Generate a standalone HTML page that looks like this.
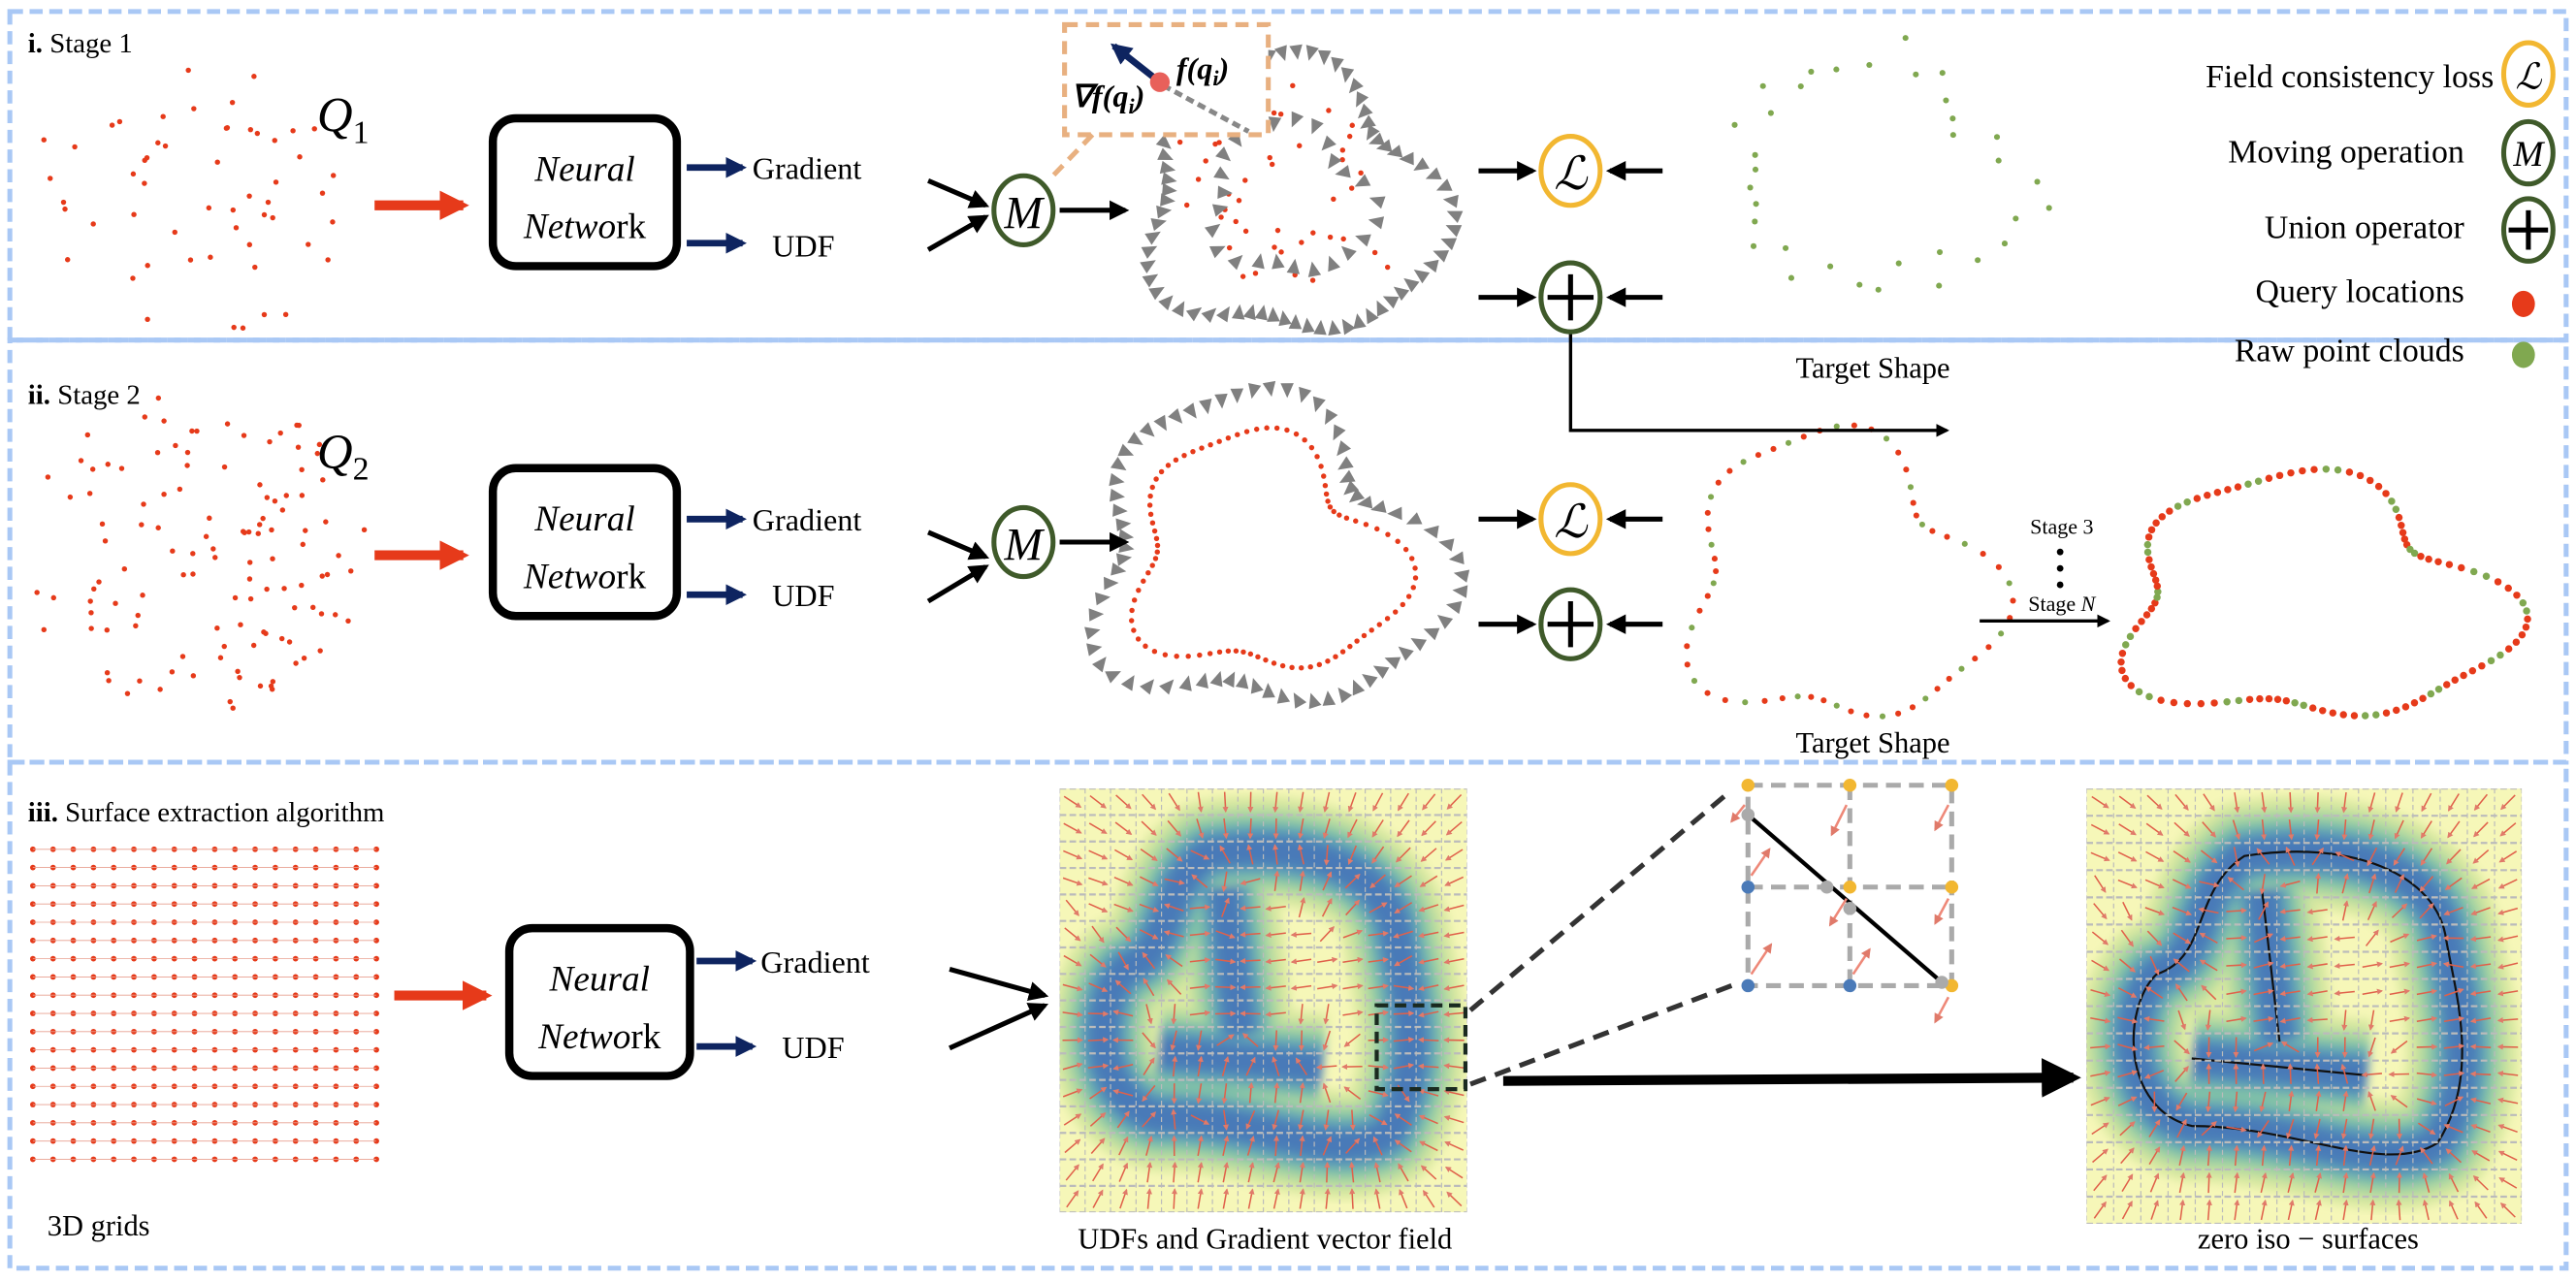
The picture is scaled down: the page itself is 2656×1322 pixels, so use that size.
<!DOCTYPE html>
<html><head><meta charset="utf-8"><style>
html,body{margin:0;padding:0;background:#fff;}
svg{display:block}
text{font-family:"Liberation Serif",serif;}
</style></head><body>
<svg id="s" xmlns="http://www.w3.org/2000/svg" width="2656" height="1322" viewBox="0 0 1568 780.4" preserveAspectRatio="none">
<defs>
<marker id="ab" viewBox="0 0 10 10" refX="8" refY="5" markerWidth="4" markerHeight="4" orient="auto"><path d="M0,0L10,5L0,10z" fill="#000"/></marker>
<marker id="an" viewBox="0 0 10 10" refX="8" refY="5" markerWidth="3.2" markerHeight="3.2" orient="auto"><path d="M0,0L10,5L0,10z" fill="#0e2460"/></marker>
<marker id="ar" viewBox="0 0 10 10" refX="8" refY="5" markerWidth="3" markerHeight="3" orient="auto"><path d="M0,0L10,5L0,10z" fill="#e63a1a"/></marker>
<marker id="ap" viewBox="0 0 10 10" refX="8" refY="5" markerWidth="4" markerHeight="4" orient="auto"><path d="M0,0L10,5L0,10z" fill="#e07a6a"/></marker>
<filter id="bl" x="-20%" y="-20%" width="140%" height="140%"><feGaussianBlur stdDeviation="3"/></filter>
<clipPath id="c1"><rect x="645" y="480" width="248" height="258"/></clipPath>
<clipPath id="c2"><rect x="1270" y="480" width="265" height="265"/></clipPath>
</defs>
<g fill="none" stroke="#a9c8f5" stroke-width="3" stroke-dasharray="8,4">
<rect x="6" y="7" width="1556" height="200"/>
<rect x="6" y="207" width="1556" height="257"/>
<rect x="6" y="464" width="1556" height="308"/>
</g>
<g id="dyn"></g>
<text x="17" y="32" font-size="17"><tspan font-weight="bold">i.</tspan> Stage 1</text>
<text x="17" y="246" font-size="17"><tspan font-weight="bold">ii.</tspan> Stage 2</text>
<text x="17" y="500" font-size="17"><tspan font-weight="bold">iii.</tspan> Surface extraction algorithm</text>
<text x="193" y="80" font-size="30" font-style="italic">Q<tspan font-size="20" font-style="normal" dy="7">1</tspan></text>
<text x="193" y="285" font-size="30" font-style="italic">Q<tspan font-size="20" font-style="normal" dy="7">2</tspan></text>
<g fill="#fff" stroke="#000" stroke-width="5">
<rect x="300" y="72" width="112" height="90" rx="14"/>
<rect x="300" y="285" width="112" height="90" rx="14"/>
<rect x="310" y="565" width="110" height="90" rx="14"/>
</g>
<g font-size="22" text-anchor="middle">
<text x="356" y="110" font-style="italic">Neural</text><text x="356" y="145"><tspan font-style="italic">Netwo</tspan>rk</text>
<text x="356" y="323" font-style="italic">Neural</text><text x="356" y="358"><tspan font-style="italic">Netwo</tspan>rk</text>
<text x="365" y="603" font-style="italic">Neural</text><text x="365" y="638"><tspan font-style="italic">Netwo</tspan>rk</text>
</g>
<g stroke="#e63a1a" stroke-width="6" marker-end="url(#ar)">
<line x1="228" y1="125" x2="282" y2="125"/><line x1="228" y1="338" x2="282" y2="338"/><line x1="240" y1="606" x2="296" y2="606"/>
</g>
<g stroke="#0e2460" stroke-width="4" marker-end="url(#an)">
<line x1="418" y1="102" x2="452" y2="102"/><line x1="418" y1="148" x2="452" y2="148"/>
<line x1="418" y1="316" x2="452" y2="316"/><line x1="418" y1="362" x2="452" y2="362"/>
<line x1="424" y1="585" x2="458" y2="585"/><line x1="424" y1="637" x2="458" y2="637"/>
</g>
<g font-size="19">
<text x="458" y="109">Gradient</text><text x="470" y="156">UDF</text>
<text x="458" y="323">Gradient</text><text x="470" y="369">UDF</text>
<text x="463" y="592">Gradient</text><text x="476" y="644">UDF</text>
</g>
<g stroke="#000" stroke-width="3" marker-end="url(#ab)" fill="none">
<line x1="565" y1="110" x2="600" y2="125"/><line x1="565" y1="152" x2="600" y2="132"/>
<line x1="645" y1="128" x2="685" y2="128"/>
<line x1="565" y1="324" x2="600" y2="339"/><line x1="565" y1="366" x2="600" y2="345"/>
<line x1="645" y1="330" x2="685" y2="330"/>
<line x1="578" y1="590" x2="636" y2="606"/><line x1="578" y1="638" x2="636" y2="612"/>
<line x1="900" y1="104" x2="933" y2="104"/><line x1="1012" y1="104" x2="980" y2="104"/>
<line x1="900" y1="181" x2="933" y2="181"/><line x1="1012" y1="181" x2="980" y2="181"/>
<line x1="900" y1="316" x2="933" y2="316"/><line x1="1012" y1="316" x2="980" y2="316"/>
<line x1="900" y1="380" x2="933" y2="380"/><line x1="1012" y1="380" x2="980" y2="380"/>
<polyline points="956,201 956,262 1185,262" stroke-width="2"/>
<line x1="1205" y1="378" x2="1283" y2="378" stroke-width="2"/>
<line x1="915" y1="658" x2="1262" y2="656" stroke-width="6"/>
</g>
<g fill="#fff" stroke-width="3">
<ellipse cx="623" cy="128" rx="18" ry="21" stroke="#3f5a2a"/>
<ellipse cx="623" cy="330" rx="18" ry="21" stroke="#3f5a2a"/>
<ellipse cx="956" cy="104" rx="18" ry="21" stroke="#f2b731"/>
<ellipse cx="956" cy="181" rx="18" ry="21" stroke="#3f5a2a"/>
<ellipse cx="956" cy="316" rx="18" ry="21" stroke="#f2b731"/>
<ellipse cx="956" cy="380" rx="18" ry="21" stroke="#3f5a2a"/>
<ellipse cx="1539" cy="45" rx="15" ry="19" stroke="#f2b731"/>
<ellipse cx="1539" cy="93" rx="15" ry="19" stroke="#3f5a2a"/>
<ellipse cx="1539" cy="140" rx="15" ry="19" stroke="#3f5a2a"/>
</g>
<g font-size="28" font-style="italic" text-anchor="middle">
<text x="623" y="139">M</text><text x="623" y="341">M</text>
<text x="956" y="115">ℒ</text><text x="956" y="327">ℒ</text>
<text x="1539" y="54" font-size="22">ℒ</text><text x="1539" y="101" font-size="22">M</text>
</g>
<g stroke="#000" stroke-width="3">
<line x1="942" y1="181" x2="970" y2="181"/><line x1="956" y1="167" x2="956" y2="195"/>
<line x1="942" y1="380" x2="970" y2="380"/><line x1="956" y1="366" x2="956" y2="394"/>
<line x1="1527" y1="140" x2="1551" y2="140"/><line x1="1539" y1="128" x2="1539" y2="152"/>
</g>
<g font-size="20" text-anchor="end">
<text x="1518" y="53">Field consistency loss</text>
<text x="1500" y="99">Moving operation</text>
<text x="1500" y="145">Union operator</text>
<text x="1500" y="184">Query locations</text>
<text x="1500" y="220">Raw point clouds</text>
</g>
<ellipse cx="1536" cy="185" rx="7" ry="8" fill="#e63a1a"/>
<ellipse cx="1536" cy="216" rx="7" ry="8" fill="#80a850"/>
<g font-size="18" text-anchor="middle">
<text x="1140" y="230">Target Shape</text>
<text x="1140" y="458">Target Shape</text>
<text x="60" y="752">3D grids</text>
<text x="770" y="760">UDFs and Gradient vector field</text>
<text x="1405" y="760">zero iso − surfaces</text>
<text x="1255" y="325" font-size="13" font-family="Liberation Sans,sans-serif">Stage 3</text>
<text x="1255" y="372" font-size="13" font-family="Liberation Sans,sans-serif">Stage <tspan font-style="italic">N</tspan></text>
</g>
<g fill="#000"><circle cx="1254" cy="336" r="2"/><circle cx="1254" cy="346" r="2"/><circle cx="1254" cy="356" r="2"/></g>
<rect x="648" y="15" width="124" height="67" fill="#fff" stroke="#e8b080" stroke-width="3" stroke-dasharray="8,5"/>
<line x1="665" y1="82" x2="640" y2="108" stroke="#e8b080" stroke-width="3" stroke-dasharray="8,5"/>
<line x1="706" y1="50" x2="678" y2="28" stroke="#0e2460" stroke-width="4" marker-end="url(#an)"/>
<line x1="708" y1="52" x2="760" y2="80" stroke="#888" stroke-width="3" stroke-dasharray="5,3"/>
<circle cx="706" cy="50" r="6" fill="#e8605a"/>
<text x="652" y="65" font-size="19" font-weight="bold" font-style="italic">∇f(q<tspan font-size="13" dy="4">i</tspan><tspan dy="-4">)</tspan></text>
<text x="716" y="48" font-size="19" font-weight="bold" font-style="italic">f(q<tspan font-size="13" dy="4">i</tspan><tspan dy="-4">)</tspan></text>
<g stroke="#aaa" stroke-width="3" stroke-dasharray="9,5" fill="none">
<rect x="1064" y="478" width="124" height="122"/>
<line x1="1126" y1="478" x2="1126" y2="600"/><line x1="1064" y1="540" x2="1188" y2="540"/>
</g>
<line x1="1064" y1="496" x2="1182" y2="598" stroke="#000" stroke-width="2.5"/>
<g stroke="#333" stroke-width="3" stroke-dasharray="10,6">
<line x1="895" y1="615" x2="1054" y2="481"/><line x1="895" y1="660" x2="1054" y2="600"/>
</g>
<g id="cellpts"></g>
</svg>
<script>
const NS="http://www.w3.org/2000/svg";
const D=document.getElementById('dyn');
function el(t,a,p){const e=document.createElementNS(NS,t);for(const k in a)e.setAttribute(k,a[k]);(p||D).appendChild(e);return e;}
let seed=7;function rnd(){seed=(seed*16807)%2147483647;return seed/2147483647;}
function cloud(cx,cy,rx,ry,n){for(let i=0;i<n;i++){let x,y;do{x=rnd()*2-1;y=rnd()*2-1;}while(x*x+y*y>1);el('circle',{cx:cx+x*rx,cy:cy+y*ry,r:1.6,fill:'#e63a1a'});}}
cloud(115,125,100,88,55);cloud(118,338,105,100,120);
for(let i=0;i<18;i++)for(let j=0;j<18;j++){el('circle',{cx:20+i*12.3,cy:517+j*11.1,r:1.7,fill:'#e63a1a'});}
for(let j=0;j<18;j++)el('line',{x1:20,y1:517+j*11.1,x2:229,y2:517+j*11.1,stroke:'#e8a090','stroke-width':0.5});
function shp(cx,cy,rx,ry,a,b,c){return t=>{const r=1+a*Math.sin(3*t+0.5)+b*Math.cos(5*t)+c*Math.sin(2*t);return [cx+rx*r*Math.cos(t),cy+ry*r*Math.sin(t)];};}
function ring(f,n,col,r,off){for(let i=0;i<n;i++){const t=i/n*2*Math.PI+(off||0);const p=f(t);el('circle',{cx:p[0],cy:p[1],r:r,fill:col});}}
function tris(f,cx,cy,n,k){for(let i=0;i<n;i++){const t=i/n*2*Math.PI;const p=f(t);const x=cx+(p[0]-cx)*k,y=cy+(p[1]-cy)*k;const ang=Math.atan2(cy-y,cx-x)*180/Math.PI+(rnd()-0.5)*40;
el('path',{d:'M5,0L-4,-4L-4,4z',fill:'#808080',transform:`translate(${x},${y}) rotate(${ang})`});}}
const f1=shp(785,122,72,68,0.12,0.08,0.05);
for(let i=0;i<45;i++){const t=rnd()*2*Math.PI;const k=0.3+rnd()*0.8;const p=f1(t);el('circle',{cx:785+(p[0]-785)*k,cy:122+(p[1]-122)*k,r:1.6,fill:'#e63a1a'});}
tris(f1,785,122,70,1.2);tris(f1,785,122,25,0.65);
const f2=shp(768,340,78,70,0.15,0.1,0.06);ring(f2,90,'#e63a1a',1.6);tris(f2,768,340,70,1.3);
const g1=shp(1140,105,95,75,0.1,0.08,0.05);
for(let i=0;i<34;i++){const t=i/34*2*Math.PI+rnd()*0.1;const k=0.75+rnd()*0.3;const p=g1(t);el('circle',{cx:1140+(p[0]-1140)*k,cy:105+(p[1]-105)*k,r:1.8,fill:'#80a850'});}
const g2=shp(1118,355,90,85,0.14,0.1,0.05);for(let i=0;i<60;i++){const t=i/60*2*Math.PI;const p=g2(t);el('circle',{cx:p[0],cy:p[1],r:1.8,fill:i%3==0?'#80a850':'#e63a1a'});}
const g3=shp(1405,367,112,72,0.14,0.1,0.05);for(let i=0;i<110;i++){const t=i/110*2*Math.PI;const p=g3(t);el('circle',{cx:p[0],cy:p[1],r:2.2,fill:(i%7<2)?'#80a850':'#e63a1a'});}
function heat(x0,y0,w,h,clip,iso){
 const g=el('g',{'clip-path':`url(#${clip})`});
 el('rect',{x:x0,y:y0,width:w,height:h,fill:'#f6f7b8'},g);
 const sx=w/248,sy=h/258;
 const d=`M${x0+90*sx},${y0+40*sy} C${x0+60*sx},${y0+60*sy} ${x0+70*sx},${y0+100*sy} ${x0+40*sx},${y0+110*sy} C${x0+20*sx},${y0+130*sy} ${x0+20*sx},${y0+190*sy} ${x0+60*sx},${y0+200*sy} C${x0+120*sx},${y0+200*sy} ${x0+170*sx},${y0+230*sy} ${x0+200*sx},${y0+210*sy} C${x0+225*sx},${y0+170*sy} ${x0+210*sx},${y0+120*sy} ${x0+205*sx},${y0+90*sy} C${x0+200*sx},${y0+50*sy} ${x0+150*sx},${y0+30*sy} ${x0+90*sx},${y0+40*sy} Z M${x0+100*sx},${y0+60*sy} L${x0+110*sx},${y0+150*sy} M${x0+60*sx},${y0+160*sy} L${x0+160*sx},${y0+170*sy}`;
 const layers=[[120,'#d8e8a0'],[95,'#b0d8a0'],[72,'#7fc0a8'],[52,'#5a9ab8'],[32,'#4a7ab8']];
 const gg=el('g',{filter:'url(#bl)'},g);
 for(const [sw,c] of layers)el('path',{d:d,fill:'none',stroke:c,'stroke-width':sw*Math.min(sx,sy)*0.55,'stroke-linejoin':'round'},gg);
 const path=el('path',{d:d,fill:'none',stroke:iso?'#111':'none','stroke-width':1.3},g);
 const L=path.getTotalLength();const pts=[];for(let i=0;i<300;i++){const p=path.getPointAtLength(i/300*L);pts.push([p.x,p.y]);}
 const n=16;
 for(let i=0;i<=n;i++){el('line',{x1:x0+i*w/n,y1:y0,x2:x0+i*w/n,y2:y0+h,stroke:'#bbb','stroke-width':0.7,'stroke-dasharray':'3,2'},g);el('line',{x1:x0,y1:y0+i*h/n,x2:x0+w,y2:y0+i*h/n,stroke:'#bbb','stroke-width':1.3,'stroke-dasharray':'4,2'},g);}
 for(let i=0;i<n;i++)for(let j=0;j<n;j++){const x=x0+(i+0.5)*w/n,y=y0+(j+0.5)*h/n;let best=1e9,bx=0,by=0;for(const p of pts){const dd=(p[0]-x)**2+(p[1]-y)**2;if(dd<best){best=dd;bx=p[0];by=p[1];}}
  const a=Math.atan2(by-y,bx-x);const l=6;el('line',{x1:x-l*Math.cos(a),y1:y-l*Math.sin(a),x2:x+l*Math.cos(a),y2:y+l*Math.sin(a),stroke:'#e0604a','stroke-width':0.9,'marker-end':'url(#ap)'},g);}
}
heat(645,480,248,258,'c1',false);
heat(1270,480,265,265,'c2',true);
el('rect',{x:838,y:612,width:54,height:51,fill:'none',stroke:'#1a2a20','stroke-width':2.5,'stroke-dasharray':'7,4'});
const C=document.getElementById('cellpts');
[[1064,478,'#f2b731'],[1126,478,'#f2b731'],[1188,478,'#f2b731'],[1064,540,'#4a7ab8'],[1126,540,'#f2b731'],[1188,540,'#f2b731'],[1064,600,'#4a7ab8'],[1126,600,'#4a7ab8'],[1188,600,'#f2b731'],[1064,496,'#aaa'],[1112,540,'#aaa'],[1126,553,'#aaa'],[1182,598,'#aaa']].forEach(p=>el('circle',{cx:p[0],cy:p[1],r:4,fill:p[2]},C));
[[1062,490,1054,500],[1124,490,1115,508],[1186,490,1178,505],[1066,533,1077,517],[1124,547,1114,563],[1186,547,1178,562],[1066,593,1078,575],[1128,593,1138,578],[1186,607,1178,622]].forEach(a=>el('line',{x1:a[0],y1:a[1],x2:a[2],y2:a[3],stroke:'#ee8878','stroke-width':1.5,'marker-end':'url(#ap)'},C));
</script>
</body></html>
